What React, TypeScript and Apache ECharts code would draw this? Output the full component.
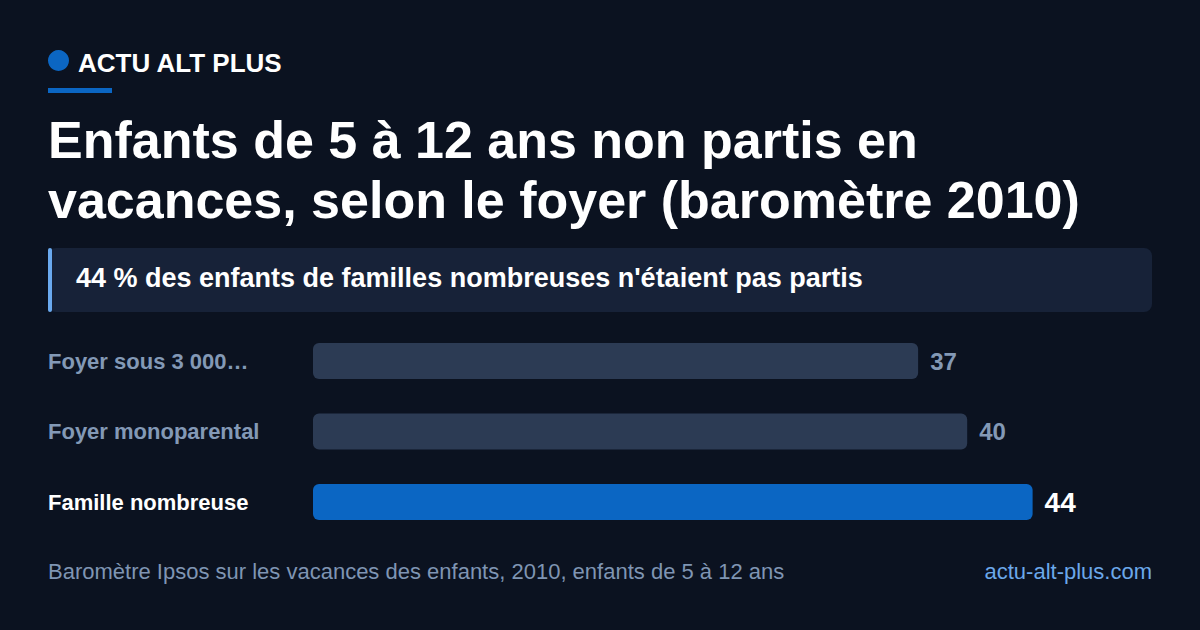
import {useEffect, useRef} from 'react';
import * as echarts from 'echarts';

const categories = ['Foyer sous 3 000…', 'Foyer monoparental', 'Famille nombreuse'];
const values = [37, 40, 44];
const highlight = [false, false, true];

const BG = '#0b1220';
const GRAY_BAR = '#2c3b54';
const BLUE = '#0b66c3';
const MUTED = '#8399b6';
const FONT = '"Liberation Sans", Arial, sans-serif';

const App = () => {
    const chartRef = useRef<HTMLDivElement>(null);

    useEffect(() => {
        const myChart = echarts.init(chartRef.current!, null, {renderer: 'svg'});

        myChart.setOption({
            animation: false,
            backgroundColor: BG,
            textStyle: {fontFamily: FONT},
            grid: {left: 313, right: 48, top: 325.75, bottom: 92.75},
            xAxis: {
                type: 'value',
                min: 0,
                max: 51.3,
                show: false,
            },
            yAxis: {
                type: 'category',
                data: categories,
                inverse: true,
                axisLine: {show: false},
                axisTick: {show: false},
                splitLine: {show: false},
                axisLabel: {
                    align: 'left',
                    margin: 265,
                    formatter: (v: string) => {
                        const i = categories.indexOf(v);
                        return highlight[i] ? `{hi|${v}}` : `{lo|${v}}`;
                    },
                    rich: {
                        hi: {color: '#ffffff', fontSize: 22, fontWeight: 'bold', fontFamily: FONT},
                        lo: {color: MUTED, fontSize: 22, fontWeight: 'bold', fontFamily: FONT},
                    },
                },
            },
            series: [
                {
                    type: 'bar',
                    barWidth: 36,
                    data: values.map((v, i) => ({
                        value: v,
                        itemStyle: {color: highlight[i] ? BLUE : GRAY_BAR, borderRadius: 6},
                    })),
                    label: {
                        show: true,
                        position: 'right',
                        distance: 12,
                        formatter: (p: any) =>
                            highlight[p.dataIndex] ? `{hi|${p.value}}` : `{lo|${p.value}}`,
                        rich: {
                            hi: {color: '#ffffff', fontSize: 28, fontWeight: 'bold', fontFamily: FONT},
                            lo: {color: MUTED, fontSize: 24, fontWeight: 'bold', fontFamily: FONT},
                        },
                    },
                },
            ],
            graphic: [
                {type: 'circle', shape: {cx: 58.5, cy: 60.5, r: 10.5}, style: {fill: BLUE}},
                {
                    type: 'text',
                    x: 78,
                    y: 63,
                    style: {
                        text: 'ACTU ALT PLUS',
                        fill: '#ffffff',
                        font: `bold 26px ${FONT}`,
                        verticalAlign: 'middle',
                    },
                },
                {type: 'rect', shape: {x: 48, y: 88, width: 64, height: 5}, style: {fill: BLUE}},
                {
                    type: 'text',
                    x: 48,
                    y: 140,
                    style: {
                        text: 'Enfants de 5 à 12 ans non partis en',
                        fill: '#ffffff',
                        font: `bold 52px ${FONT}`,
                        verticalAlign: 'middle',
                    },
                },
                {
                    type: 'text',
                    x: 48,
                    y: 200,
                    style: {
                        text: 'vacances, selon le foyer (baromètre 2010)',
                        fill: '#ffffff',
                        font: `bold 52px ${FONT}`,
                        verticalAlign: 'middle',
                    },
                },
                {
                    type: 'rect',
                    shape: {x: 48, y: 248, width: 1104, height: 64, r: 8},
                    style: {fill: '#172238'},
                },
                {
                    type: 'rect',
                    shape: {x: 48, y: 248, width: 4, height: 64, r: 2},
                    style: {fill: '#6aa9ee'},
                },
                {
                    type: 'text',
                    x: 76,
                    y: 278,
                    style: {
                        text: "44 % des enfants de familles nombreuses n'étaient pas partis",
                        fill: '#ffffff',
                        font: `bold 27px ${FONT}`,
                        verticalAlign: 'middle',
                    },
                },
                {
                    type: 'text',
                    x: 48,
                    y: 571,
                    style: {
                        text: 'Baromètre Ipsos sur les vacances des enfants, 2010, enfants de 5 à 12 ans',
                        fill: '#7f95b3',
                        font: `22px ${FONT}`,
                        verticalAlign: 'middle',
                    },
                },
                {
                    type: 'text',
                    x: 1152,
                    y: 571,
                    style: {
                        text: 'actu-alt-plus.com',
                        fill: '#6ba8ea',
                        font: `22px ${FONT}`,
                        align: 'right',
                        verticalAlign: 'middle',
                    },
                },
            ],
        });

        return () => {
            myChart.dispose();
        };
    }, []);

    return (
        <div style={{position: 'fixed', left: 0, top: 0, width: 1200, height: 630, background: BG}}>
            <div ref={chartRef} style={{width: '1200px', height: '630px'}} />
        </div>
    );
};

export default App;
